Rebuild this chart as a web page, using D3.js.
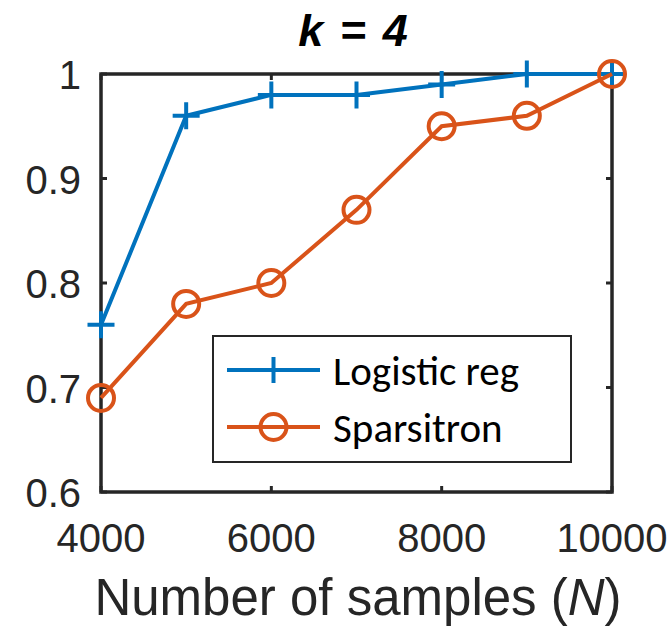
<!DOCTYPE html>
<html><head><meta charset="utf-8">
<script src="https://cdn.jsdelivr.net/npm/d3@7"></script>
<style>body{margin:0;background:#fff}</style>
</head><body>
<svg id="c" width="672" height="638"></svg>
<script>
const samples = [4000, 5000, 6000, 7000, 8000, 9000, 10000];
const logisticReg = [0.76, 0.96, 0.98, 0.98, 0.99, 1.0, 1.0];
const sparsitron = [0.69, 0.78, 0.80, 0.87, 0.95, 0.96, 1.0];
const xTicks = [4000, 6000, 8000, 10000];
const yTicks = [0.6, 0.7, 0.8, 0.9, 1.0];
const yTickLabels = ["0.6", "0.7", "0.8", "0.9", "1"];

const svg = d3.select("#c");
const m = {l:101, r:612, t:74, b:492};
const x = d3.scaleLinear().domain([4000,10000]).range([m.l, m.r]);
const y = d3.scaleLinear().domain([0.6,1.0]).range([m.b, m.t]);
const axisColor = "#262626";
const tickFont = "Liberation Sans, Arial, sans-serif";

const tl = 6;
const g = svg.append("g");
xTicks.forEach(v=>{
  g.append("line").attr("x1",x(v)).attr("x2",x(v)).attr("y1",m.b).attr("y2",m.b-tl).attr("stroke",axisColor).attr("stroke-width",3);
  g.append("line").attr("x1",x(v)).attr("x2",x(v)).attr("y1",m.t).attr("y2",m.t+tl).attr("stroke",axisColor).attr("stroke-width",3);
});
yTicks.forEach(v=>{
  g.append("line").attr("x1",m.l).attr("x2",m.l+tl).attr("y1",y(v)).attr("y2",y(v)).attr("stroke",axisColor).attr("stroke-width",3);
  g.append("line").attr("x1",m.r).attr("x2",m.r-tl).attr("y1",y(v)).attr("y2",y(v)).attr("stroke",axisColor).attr("stroke-width",3);
});
g.append("rect").attr("x",m.l).attr("y",m.t).attr("width",m.r-m.l).attr("height",m.b-m.t)
  .attr("fill","none").attr("stroke",axisColor).attr("stroke-width",3.5);

xTicks.forEach(v=>{
  svg.append("text").attr("x",x(v)).attr("y",552).attr("text-anchor","middle")
    .attr("font-family",tickFont).attr("font-size",40).attr("fill",axisColor).text(v);
});
yTicks.forEach((v,i)=>{
  svg.append("text").attr("x",81).attr("y",y(v)+15).attr("text-anchor","end")
    .attr("font-family",tickFont).attr("font-size",40).attr("fill",axisColor).text(yTickLabels[i]);
});
const xl = svg.append("text").attr("x",358).attr("y",615).attr("text-anchor","middle")
  .attr("font-family",tickFont).attr("font-size",51).attr("fill",axisColor);
xl.append("tspan").text("Number of samples (");
xl.append("tspan").attr("font-style","italic").text("N");
xl.append("tspan").text(")");
const tt = svg.append("text").attr("x",354).attr("y",46).attr("text-anchor","middle")
  .attr("font-family",tickFont).attr("font-size",45).attr("font-weight","bold").attr("font-style","italic")
  .attr("letter-spacing",2).attr("fill","#000");
tt.append("tspan").text("k");
tt.append("tspan").text(" = 4");

const blue = "#0072BD", orange = "#D95319";
const line = d3.line().x(d=>x(d[0])).y(d=>y(d[1]));
const dataL = samples.map((s,i)=>[s, logisticReg[i]]);
const dataS = samples.map((s,i)=>[s, sparsitron[i]]);

svg.append("path").attr("d",line(dataL)).attr("fill","none").attr("stroke",blue).attr("stroke-width",4);
const ps = 13.5;
dataL.forEach(d=>{
  svg.append("path").attr("d",`M${x(d[0])-ps},${y(d[1])}H${x(d[0])+ps}M${x(d[0])},${y(d[1])-ps}V${y(d[1])+ps}`)
    .attr("stroke",blue).attr("stroke-width",4).attr("fill","none");
});
svg.append("path").attr("d",line(dataS)).attr("fill","none").attr("stroke",orange).attr("stroke-width",4);
dataS.forEach(d=>{
  svg.append("circle").attr("cx",x(d[0])).attr("cy",y(d[1])).attr("r",13)
    .attr("stroke",orange).attr("stroke-width",4).attr("fill","none");
});

const lg = svg.append("g");
lg.append("rect").attr("x",213).attr("y",336).attr("width",358).attr("height",126)
  .attr("fill","#fff").attr("stroke",axisColor).attr("stroke-width",2);
const legendItems = [{name:"Logistic reg", color:blue, mk:"plus", yy:370},{name:"Sparsitron", color:orange, mk:"circle", yy:427}];
legendItems.forEach(it=>{
  lg.append("line").attr("x1",227).attr("x2",320).attr("y1",it.yy).attr("y2",it.yy).attr("stroke",it.color).attr("stroke-width",4);
  if(it.mk==="plus"){
    lg.append("path").attr("d",`M${273.5},${it.yy-13}V${it.yy+13}`).attr("stroke",it.color).attr("stroke-width",4);
  } else {
    lg.append("circle").attr("cx",273.5).attr("cy",it.yy).attr("r",13).attr("stroke",it.color).attr("stroke-width",4).attr("fill","none");
  }
  lg.append("text").attr("x",333).attr("y",it.yy+15).attr("font-family","Carlito, Lato, sans-serif").attr("font-size",41).attr("fill","#000").text(it.name);
});
</script>
</body></html>
